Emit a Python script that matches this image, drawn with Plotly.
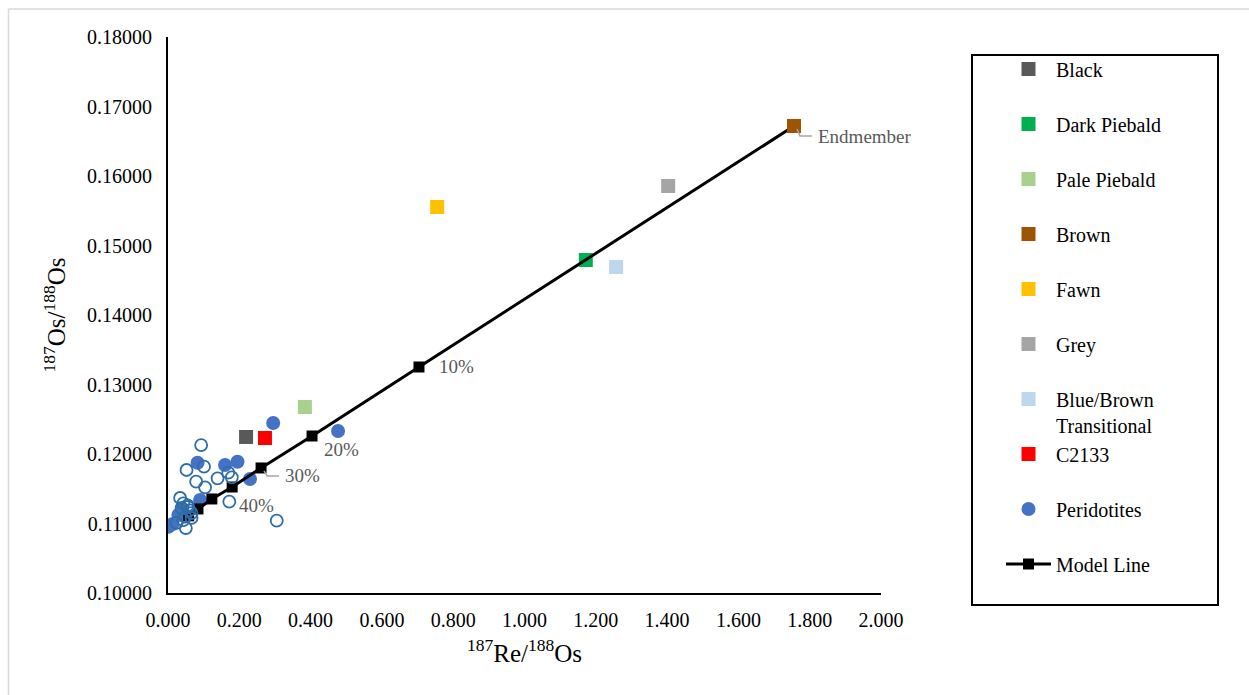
import plotly.graph_objects as go

# ---- sample groups (187Re/188Os, 187Os/188Os) ----
groups = ["Black", "Dark Piebald", "Pale Piebald", "Brown", "Fawn", "Grey",
          "Blue/Brown<br>Transitional", "C2133"]
group_re = [0.219, 1.172, 0.384, 1.756, 0.755, 1.403, 1.257, 0.272]
group_os = [0.12245, 0.14791, 0.12676, 0.16719, 0.15554, 0.15856, 0.14691, 0.12230]
group_colors = ["#595959", "#00B050", "#A9D18E", "#9C5400", "#FFC000", "#A5A5A5",
                "#BDD7EE", "#FF0000"]

# ---- peridotites ----
perid_re = [0.295, 0.477, 0.230, 0.195, 0.160, 0.083, 0.090, 0.001, 0.012, 0.029, 0.040]
perid_os = [0.12446, 0.12331, 0.11640, 0.11889, 0.11842, 0.11875, 0.11338, 0.10954,
            0.10990, 0.11122, 0.11200]
perid_open_re = [0.093, 0.052, 0.101, 0.079, 0.104, 0.139, 0.169, 0.179, 0.172, 0.305,
                 0.034, 0.043, 0.038, 0.056, 0.066, 0.048, 0.043, 0.066, 0.050, 0.024,
                 0.060, 0.055]
perid_open_os = [0.12129, 0.11770, 0.11817, 0.11602, 0.11521, 0.11650, 0.11731, 0.11665,
                 0.11314, 0.11040, 0.11367, 0.11290, 0.11223, 0.11237, 0.11150, 0.11098,
                 0.11050, 0.11080, 0.10935, 0.11010, 0.11190, 0.11260]

# ---- mixing model line ----
model_re = [1.756, 0.704, 0.404, 0.261, 0.180, 0.123, 0.084, 0.058]
model_os = [0.16719, 0.13252, 0.12259, 0.11799, 0.11525, 0.11353, 0.11209, 0.11110]
model_labels = ["Endmember", "10%", "20%", "30%", "40%", "", "", ""]
# label offsets in pixels (dx, dy) and whether a leader line is drawn
label_offsets = {"Endmember": (22, -10, True), "10%": (18, 0, False),
                 "20%": (10, -13, False), "30%": (22, -8, True), "40%": (5, -18, False)}

serif = "Liberation Serif"
W, H = 1249, 695
ML, MR, MT, MB = 168, 368, 37, 102
PW, PH = W - ML - MR, H - MT - MB


def px_x(px):
    return (px - ML) / PW


def px_y(py):
    return (H - MB - py) / PH


fig = go.Figure()

legend_rows = [69, 124, 179, 234, 289, 344, 412, 454, 509, 564]

for i, (name, xv, yv, col) in enumerate(zip(groups, group_re, group_os, group_colors)):
    fig.add_trace(go.Scatter(
        x=[xv], y=[yv], mode="markers", name=name,
        marker=dict(symbol="square", size=14, color=col),
        legend="legend" if i == 0 else f"legend{i + 1}"))

fig.add_trace(go.Scatter(
    x=perid_re, y=perid_os, mode="markers", name="Peridotites",
    marker=dict(symbol="circle", size=14, color="#4472C4"),
    legend="legend9"))

fig.add_trace(go.Scatter(
    x=model_re[1:], y=model_os[1:], mode="lines+markers", name="Model Line",
    line=dict(color="black", width=3),
    marker=dict(symbol="square", size=11, color="black"),
    legend="legend10"))
fig.add_trace(go.Scatter(
    x=model_re[:2], y=model_os[:2], mode="lines", showlegend=False,
    line=dict(color="black", width=3), hoverinfo="skip"))
# brown endmember drawn over the line end
fig.add_trace(go.Scatter(
    x=[group_re[3]], y=[group_os[3]], mode="markers", showlegend=False,
    marker=dict(symbol="square", size=14, color=group_colors[3]), hoverinfo="skip"))

# open-symbol peridotites (no legend entry)
fig.add_trace(go.Scatter(
    x=perid_open_re, y=perid_open_os, mode="markers", showlegend=False,
    marker=dict(symbol="circle-open", size=12, color="#2E6DA8", line=dict(width=1.8)),
    hoverinfo="x+y"))

annotations = []
shapes = []
for xv, yv, lab in zip(model_re, model_os, model_labels):
    if not lab:
        continue
    dx, dy, leader = label_offsets[lab]
    annotations.append(dict(
        x=xv, y=yv, xref="x", yref="y", text=lab, showarrow=False,
        xanchor="left", yanchor="middle", xshift=dx, yshift=dy,
        font=dict(family=serif, size=19, color="#595959")))
    if leader:
        shapes.append(dict(
            type="path", xref="x", yref="y", xsizemode="pixel", ysizemode="pixel",
            xanchor=xv, yanchor=yv,
            path=f"M 3 -3 L 6 {dy} L {dx - 4} {dy}",
            line=dict(color="#A6A6A6", width=1.5)))

# legend frame
shapes.append(dict(type="rect", xref="paper", yref="paper",
                   x0=px_x(972), x1=px_x(1218), y0=px_y(605), y1=px_y(55),
                   line=dict(color="black", width=2), fillcolor="rgba(0,0,0,0)"))
# outer chart border (left and top edges)
shapes.append(dict(type="line", xref="paper", yref="paper",
                   x0=px_x(8.5), x1=px_x(8.5), y0=px_y(9), y1=px_y(H + 5),
                   line=dict(color="#D9D9D9", width=1.5)))
shapes.append(dict(type="line", xref="paper", yref="paper",
                   x0=px_x(8.5), x1=px_x(W + 5), y0=px_y(9), y1=px_y(9),
                   line=dict(color="#D9D9D9", width=1.5)))

legend_common = dict(font=dict(family=serif, size=20, color="black"),
                     bgcolor="rgba(0,0,0,0)", borderwidth=0, xanchor="left",
                     yanchor="middle", valign="top", itemwidth=45)
legends = {}
for i, row in enumerate(legend_rows):
    key = "legend" if i == 0 else f"legend{i + 1}"
    legends[key] = dict(legend_common, x=px_x(1001), y=px_y(row))

fig.update_layout(
    width=W, height=H,
    margin=dict(l=ML, r=MR, t=MT, b=MB),
    paper_bgcolor="white", plot_bgcolor="white",
    font=dict(family=serif, color="black"),
    xaxis=dict(range=[0, 2.0], dtick=0.2, tickformat=".3f", showgrid=False,
               zeroline=False, showline=True, linecolor="black", linewidth=2,
               ticks="", tickfont=dict(size=20), ticklabelstandoff=8,
               title=dict(text="<sup>187</sup>Re/<sup>188</sup>Os",
                          font=dict(size=25), standoff=14)),
    yaxis=dict(range=[0.10, 0.18], dtick=0.01, tickformat=".5f", showgrid=False,
               zeroline=False, showline=True, linecolor="black", linewidth=2,
               ticks="", tickfont=dict(size=20), ticklabelstandoff=10,
               title=dict(text="<sup>187</sup>Os/<sup>188</sup>Os",
                          font=dict(size=25), standoff=14)),
    annotations=annotations,
    shapes=shapes,
    **legends,
)

fig.write_html("out.html")
